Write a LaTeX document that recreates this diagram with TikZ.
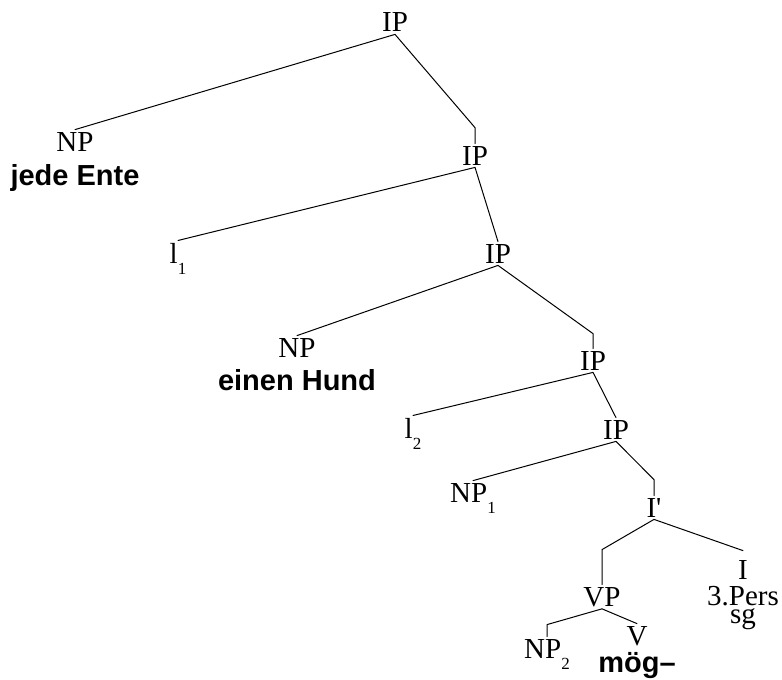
\documentclass[tikz,border=0pt]{standalone}
\usepackage{fontspec}
\setmainfont{Liberation Serif}
\newfontfamily\wordfont{Liberation Sans}
% bold sans for the lexical material under a category
\newcommand{\word}[1]{{\wordfont\bfseries #1}}
% lowered index on traces and NPs
\newcommand{\idx}[1]{\raisebox{-5.5pt}{\fontsize{8.5}{9}\selectfont #1}}
\begin{document}
\begin{tikzpicture}[x=0.5pt,y=-0.5pt,line join=round,line cap=round,
	cat/.style={inner sep=1pt,anchor=base,align=center,font=\fontsize{14.5}{17}\selectfont},
	branch/.style={line width=0.5pt}]
	\useasboundingbox (0,0) rectangle (782,680);
	% categories, placed on their (last) baselines
	\node[cat] (ip0) at (395,32) {IP};
	\node[cat] (np0) at (75,185) {NP\\ \word{jede Ente}};
	\node[cat] (ip1) at (475,165) {IP};
	\node[cat] (l1) at (178,263) {l\idx{1}};
	\node[cat] (ip2) at (498,263) {IP};
	\node[cat] (np) at (297,390) {NP\\[-0.5pt] \word{einen Hund}};
	\node[cat] (ip3) at (593,370) {IP};
	\node[cat] (l2) at (413,438) {l\idx{2}};
	\node[cat] (ip4) at (616,439) {IP};
	\node[cat] (np1) at (473,502) {NP\idx{1}};
	\node[cat] (ibar) at (654,517) {I\textquotesingle};
	\node[cat] (vp) at (602,606) {VP};
	\node[cat] (i) at (743,623) {I\\[-4pt] 3.Pers\\[-8pt] sg};
	\node[cat] (np2) at (547,658) {NP\idx{2}};
	\node[cat] (v) at (637,672) {V\\[-3.5pt] \word{mög–}};
	% branches
	\draw[branch] (ip0.south) -- (np0.north);
	\draw[branch] (ip0.south) -- ([yshift=8pt]ip1.north) -- (ip1.north);
	\draw[branch] (ip1.south) -- (l1.north);
	\draw[branch] (ip1.south) -- (ip2.north);
	\draw[branch] (ip2.south) -- (np.north);
	\draw[branch] (ip2.south) -- ([yshift=7.5pt]ip3.north) -- (ip3.north);
	\draw[branch] (ip3.south) -- (l2.north);
	\draw[branch] (ip3.south) -- (ip4.north);
	\draw[branch] (ip4.south) -- (np1.north);
	\draw[branch] (ip4.south) -- ([yshift=8pt]ibar.north) -- (ibar.north);
	\draw[branch] (ibar.south) -- ([yshift=17.5pt]vp.north) -- (vp.north);
	\draw[branch] (ibar.south) -- ([yshift=3.5pt]i.north);
	\draw[branch] (vp.south) -- ([yshift=6pt]np2.north) -- (np2.north);
	\draw[branch] (vp.south) -- (v.north);
\end{tikzpicture}
\end{document}
